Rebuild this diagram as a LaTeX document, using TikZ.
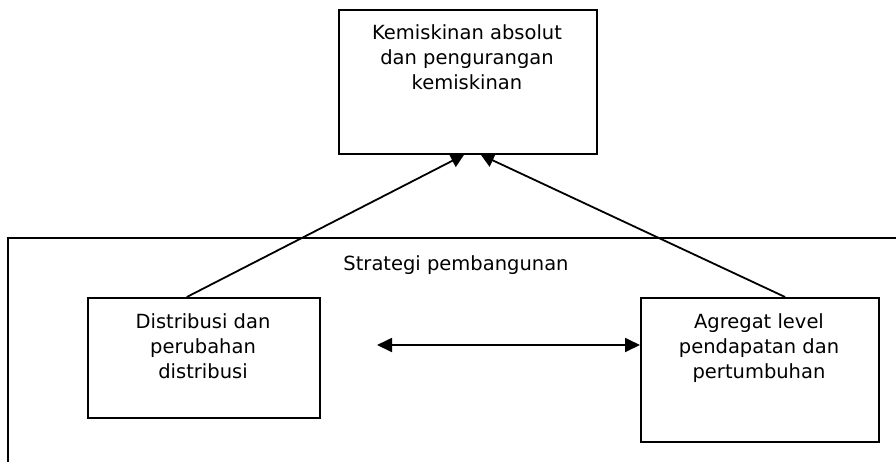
\documentclass[tikz,border=0pt]{standalone}
\usepackage{fontspec}
\setmainfont{DejaVu Sans}
\usetikzlibrary{arrows.meta,calc}
\begin{document}
\begin{tikzpicture}[x=1pt,y=-1pt,
  box/.style={draw,line width=1.8pt,inner sep=0pt,anchor=north west},
  lbl/.style={align=center,anchor=base,font=\fontsize{19.5}{25}\selectfont,inner sep=0pt},
  conn/.style={line width=1.8pt,-{Triangle[length=13pt,width=14pt]}},
  dconn/.style={line width=1.8pt,{Triangle[length=15pt,width=14pt]}-{Triangle[length=15pt,width=14pt]}}]
\clip (0,0) rectangle (896,461);
% outer frame (strategy)
\coordinate (fbl) at (8,470);
\coordinate (ftl) at (8,238);
\coordinate (ftr) at (905,238);
\draw[line width=1.8pt] (fbl) -- (ftl) -- (ftr);
% boxes
\node[box,minimum width=258pt,minimum height=144pt] (top) at (338,9) {};
\node[box,minimum width=232pt,minimum height=120pt] (lb) at (87,297) {};
\node[box,minimum width=238pt,minimum height=144pt] (rb) at (640,297) {};
% texts
\node[lbl] (ttop) at (467,89) {Kemiskinan absolut\\dan pengurangan\\kemiskinan};
\node[lbl] (tstrat) at (456,270) {Strategi pembangunan};
\node[lbl] (tlb) at (203,378) {Distribusi dan\\perubahan\\distribusi};
\node[lbl] (trb) at (759,378) {Agregat level\\pendapatan dan\\pertumbuhan};
% connectors
\coordinate (lstart) at ($(lb.north west)!0.427!(lb.north east)$);
\coordinate (rstart) at ($(rb.north west)!0.605!(rb.north east)$);
\coordinate (lend) at ($(top.south west)!0.485!(top.south east)$);
\coordinate (rend) at ($(top.south west)!0.55!(top.south east)$);
\draw[conn] (lstart) -- (lend);
\draw[conn] (rstart) -- (rend);
\coordinate (hl) at (377,345);
\draw[dconn] (hl) -- (rb.west |- hl);
\end{tikzpicture}
\end{document}
